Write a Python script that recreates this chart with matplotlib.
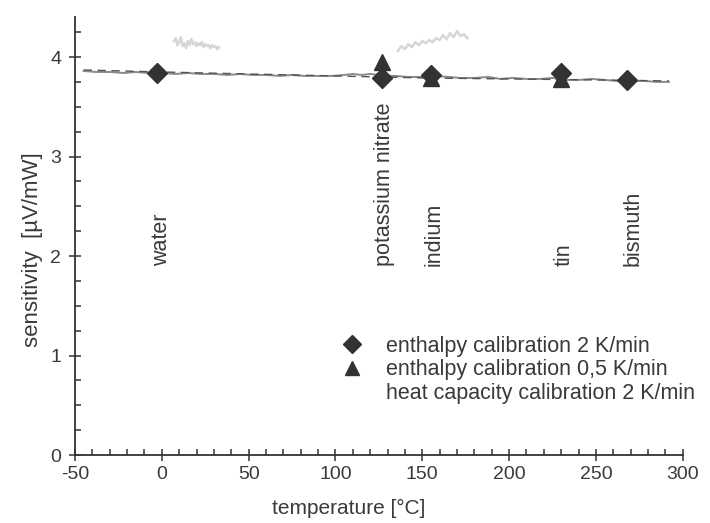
import matplotlib
matplotlib.use("Agg")
import matplotlib.pyplot as plt
from matplotlib.ticker import MultipleLocator
from matplotlib.lines import Line2D

plt.rcParams['font.family'] = ['Liberation Sans', 'DejaVu Sans']
plt.rcParams['axes.unicode_minus'] = False

# substances and calibration results
substances = ["water", "potassium nitrate", "indium", "tin", "bismuth"]
label_x = [0, 128, 156.6, 231.9, 271.4]

enth2_x = [-3, 127, 155, 230, 268]
enth2_y = [3.84, 3.79, 3.82, 3.84, 3.77]

enth05_x = [127, 155, 230]
enth05_y = [3.95, 3.79, 3.78]

# heat capacity calibration curve
cp_x = [-45, -38, -30, -22, -15, -8, 0, 8, 15, 22, 30, 38, 45, 52, 60, 68, 75, 82, 90, 98,
        105, 110, 115, 120, 125, 130, 135, 142, 150, 158, 165, 172, 180, 188, 195, 202, 210,
        218, 225, 232, 240, 248, 255, 262, 270, 278, 285, 292]
cp_y = [3.86, 3.85, 3.85, 3.84, 3.85, 3.84, 3.84, 3.83, 3.84, 3.83, 3.83, 3.82, 3.83, 3.82,
        3.82, 3.81, 3.82, 3.81, 3.81, 3.81, 3.82, 3.83, 3.82, 3.83, 3.82, 3.81, 3.81, 3.80,
        3.80, 3.81, 3.80, 3.79, 3.79, 3.80, 3.78, 3.79, 3.78, 3.78, 3.79, 3.77, 3.77, 3.78,
        3.77, 3.76, 3.76, 3.76, 3.75, 3.75]

fit_x = [-45, 0, 50, 100, 150, 200, 250, 292]
fit_y = [3.87, 3.85, 3.83, 3.81, 3.79, 3.78, 3.77, 3.76]

noise1_x = [7, 8, 9, 10, 11, 12, 13, 14, 15, 16, 17, 18, 19, 20, 21, 22, 23, 24, 25, 26,
            27, 28, 29, 30, 31, 32, 33]
noise1_y = [4.16, 4.19, 4.12, 4.15, 4.20, 4.11, 4.14, 4.09, 4.16, 4.12, 4.18, 4.13, 4.15,
            4.11, 4.14, 4.12, 4.15, 4.10, 4.13, 4.11, 4.12, 4.09, 4.12, 4.10, 4.11, 4.08, 4.10]

noise2_x = [136, 138, 140, 142, 144, 146, 148, 150, 152, 154, 156, 158, 160, 162, 164,
            166, 168, 170, 172, 174, 176]
noise2_y = [4.06, 4.11, 4.08, 4.13, 4.10, 4.15, 4.12, 4.16, 4.14, 4.17, 4.15, 4.19, 4.17,
            4.22, 4.18, 4.24, 4.20, 4.26, 4.21, 4.23, 4.19]

fig = plt.figure(figsize=(7.10, 5.23), dpi=100)
ax = fig.add_axes([0.1056, 0.130, 0.856, 0.837])

ax.plot(noise1_x, noise1_y, color='#d6d6d6', lw=1.8)
ax.plot(noise2_x, noise2_y, color='#d6d6d6', lw=1.8)
ax.plot(cp_x, cp_y, color='#8a8a8a', lw=1.4)
ax.plot(fit_x, fit_y, color='#555555', lw=1.0, ls=(0, (6, 4)))

ax.plot(enth2_x, enth2_y, ls='none', marker='D', ms=10, color='#333333')
ax.plot(enth05_x, enth05_y, ls='none', marker='^', ms=11, color='#333333')

for name, x in zip(substances, label_x):
    ax.text(x, 1.9, name, rotation=90, ha='center', va='bottom',
            fontsize=15.5, color='#3a3a3a')

ax.set_xlim(-50, 300)
ax.set_ylim(0, 4.4)
ax.xaxis.set_major_locator(MultipleLocator(50))
ax.xaxis.set_minor_locator(MultipleLocator(10))
ax.yaxis.set_major_locator(MultipleLocator(1))
ax.yaxis.set_minor_locator(MultipleLocator(0.25))
ax.spines['top'].set_visible(False)
ax.spines['right'].set_visible(False)
for s in ['left', 'bottom']:
    ax.spines[s].set_color('#333333')
    ax.spines[s].set_linewidth(1.3)
ax.tick_params(which='major', direction='inout', length=8, width=1.1, colors='#333333',
               labelsize=14, labelcolor='#3a3a3a', pad=4)
ax.tick_params(which='minor', direction='in', length=4, width=1.1, colors='#333333')
ax.tick_params(axis='y', which='major', pad=6)

ax.set_xlabel('temperature [°C]', fontsize=15, color='#3a3a3a')
ax.xaxis.set_label_coords(0.45, -0.10)
ax.set_ylabel('sensitivity  [µV/mW]', fontsize=16, color='#3a3a3a')
ax.yaxis.set_label_coords(-0.052, 0.47)

handles = [Line2D([], [], ls='none', marker='D', ms=9, color='#333333'),
           Line2D([], [], ls='none', marker='^', ms=10, color='#333333'),
           Line2D([], [], ls='none', color='none')]
labels = ['enthalpy calibration 2 K/min', 'enthalpy calibration 0,5 K/min',
          'heat capacity calibration 2 K/min']
fig.legend(handles, labels, loc='upper left', bbox_to_anchor=(0.477, 0.358),
           frameon=False, fontsize=15.5, handlelength=1.2, handletextpad=1.0,
           labelspacing=0.12, labelcolor='#3a3a3a', borderaxespad=0, borderpad=0)

fig.savefig('out.png', dpi=100, facecolor='white')
